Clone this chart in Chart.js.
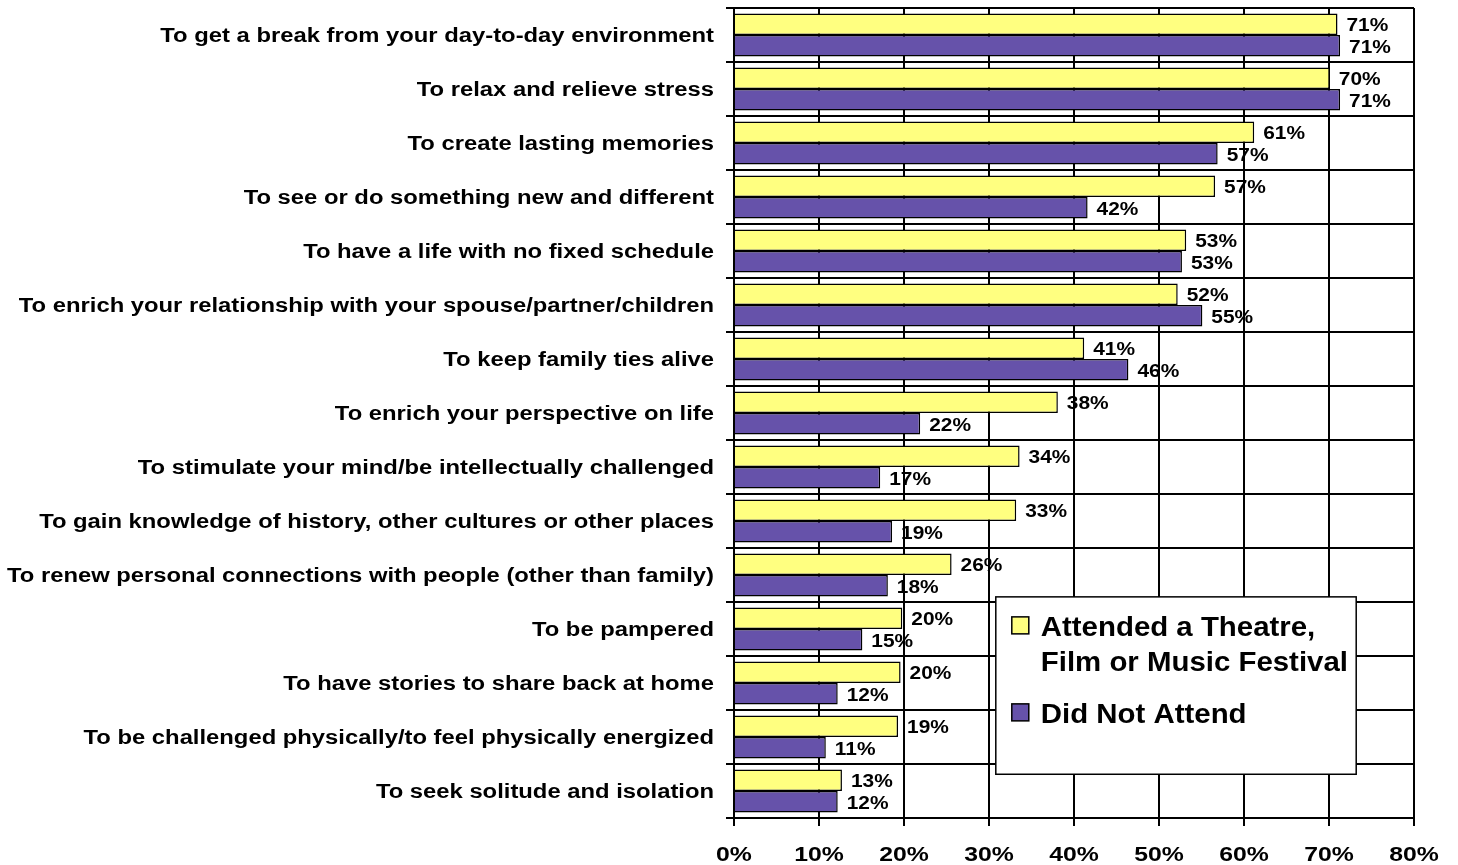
<!DOCTYPE html>
<html>
<head>
<meta charset="utf-8">
<script src="https://cdn.jsdelivr.net/npm/chart.js@4.4.1/dist/chart.umd.min.js"></script>
<style>
  html, body { margin: 0; padding: 0; background: #fff; }
  #wrap { width: 1458px; height: 865px; }
</style>
</head>
<body>
<div id="wrap"><canvas id="chart"></canvas></div>
<script>
const categories = [
    'To get a break from your day-to-day environment',
    'To relax and relieve stress',
    'To create lasting memories',
    'To see or do something new and different',
    'To have a life with no fixed schedule',
    'To enrich your relationship with your spouse/partner/children',
    'To keep family ties alive',
    'To enrich your perspective on life',
    'To stimulate your mind/be intellectually challenged',
    'To gain knowledge of history, other cultures or other places',
    'To renew personal connections with people (other than family)',
    'To be pampered',
    'To have stories to share back at home',
    'To be challenged physically/to feel physically energized',
    'To seek solitude and isolation'
];
const seriesNames = ['Attended a Theatre, Film or Music Festival', 'Did Not Attend'];
const attended = [71.0, 70.1, 61.2, 56.6, 53.2, 52.2, 41.2, 38.1, 33.6, 33.2, 25.6, 19.8, 19.6, 19.3, 12.7];
const notAttended = [71.3, 71.3, 56.9, 41.6, 52.7, 55.1, 46.4, 21.9, 17.2, 18.6, 18.1, 15.1, 12.2, 10.8, 12.2];
const xTicks = [0, 10, 20, 30, 40, 50, 60, 70, 80];

const fontFamily = '"Liberation Sans", Arial, sans-serif';

// the original text is rendered a bit wide, so squeeze it out horizontally
function wideText(ctx, text, x, y, align, sx) {
    ctx.save();
    ctx.translate(x, y);
    ctx.scale(sx, 1);
    ctx.textAlign = align;
    ctx.textBaseline = 'alphabetic';
    ctx.fillText(text, 0, 0);
    ctx.restore();
}

// axis labels, drawn off the chart's own scales
const axisLabels = {
    id: 'axisLabels',
    afterDraw(chart) {
        const ctx = chart.ctx;
        const xs = chart.scales.x;
        const ys = chart.scales.y;
        ctx.save();
        ctx.fillStyle = '#000';

        ctx.font = 'bold 20px ' + fontFamily;
        ys.ticks.forEach((t, i) => {
            const y = ys.getPixelForTick(i);
            wideText(ctx, ys.getLabelForValue(t.value), ys.right - 20, y + 7, 'right', 1.19);
        });

        ctx.font = 'bold 21px ' + fontFamily;
        xs.ticks.forEach(t => {
            const x = xs.getPixelForValue(t.value);
            wideText(ctx, t.value + '%', x, xs.top + 43, 'center', 1.18);
        });
        ctx.restore();
    }
};

// percent labels to the right of each bar
const barLabels = {
    id: 'barLabels',
    afterDatasetsDraw(chart) {
        const ctx = chart.ctx;
        ctx.save();
        ctx.font = 'bold 19px ' + fontFamily;
        ctx.fillStyle = '#000';
        chart.data.datasets.forEach((ds, i) => {
            chart.getDatasetMeta(i).data.forEach((bar, j) => {
                wideText(ctx, Math.round(ds.data[j]) + '%', bar.x + 9, bar.y + 7, 'left', 1.1);
            });
        });
        ctx.restore();
    }
};

// boxed legend sitting inside the plot, lower right
const boxLegend = {
    id: 'boxLegend',
    afterDraw(chart) {
        const ctx = chart.ctx;
        const a = chart.chartArea;
        const w = a.right - a.left;
        const h = a.bottom - a.top;
        const left = a.left + w * 0.385;
        const top = a.top + h * 0.727;
        const right = a.left + w * 0.915;
        const bottom = a.top + h * 0.946;
        const sx = 1.05;

        ctx.save();
        ctx.fillStyle = '#fff';
        ctx.fillRect(left, top, right - left, bottom - top);
        ctx.strokeStyle = '#000';
        ctx.lineWidth = 1.5;
        ctx.strokeRect(left, top, right - left, bottom - top);

        ctx.font = 'bold 28px ' + fontFamily;
        const textX = left + 45;
        const maxW = right - textX;
        let y = top + 29;
        chart.data.datasets.forEach(ds => {
            const words = ds.label.split(' ');
            const lines = [];
            let line = '';
            words.forEach(word => {
                const test = line ? line + ' ' + word : word;
                if (ctx.measureText(test).width * sx > maxW && line) {
                    lines.push(line);
                    line = word;
                } else {
                    line = test;
                }
            });
            lines.push(line);

            ctx.fillStyle = ds.backgroundColor;
            ctx.fillRect(left + 16, y - 9, 17, 17);
            ctx.strokeStyle = '#000';
            ctx.lineWidth = 1.5;
            ctx.strokeRect(left + 16, y - 9, 17, 17);

            ctx.fillStyle = '#000';
            lines.forEach((ln, k) => {
                wideText(ctx, ln, textX, y + 10 + k * 35, 'left', sx);
            });
            y += (lines.length - 1) * 35 + 52;
        });
        ctx.restore();
    }
};

new Chart(document.getElementById('chart'), {
    type: 'bar',
    data: {
        labels: categories,
        datasets: [{
            label: seriesNames[0],
            data: attended,
            backgroundColor: '#FFFF80',
            borderColor: '#000',
            borderWidth: 1.5,
            categoryPercentage: 0.8,
            barPercentage: 1.0
        }, {
            label: seriesNames[1],
            data: notAttended,
            backgroundColor: '#6652AA',
            borderColor: '#000',
            borderWidth: 1.5,
            categoryPercentage: 0.8,
            barPercentage: 1.0
        }]
    },
    options: {
        indexAxis: 'y',
        responsive: true,
        maintainAspectRatio: false,
        animation: false,
        layout: {
            padding: { top: 8, right: 44, left: 0, bottom: 0 }
        },
        plugins: {
            legend: { display: false },
            tooltip: { enabled: false }
        },
        scales: {
            x: {
                min: 0,
                max: 80,
                afterBuildTicks: scale => {
                    scale.ticks = xTicks.map(v => ({ value: v }));
                },
                afterFit: scale => {
                    scale.height = 47;
                    scale.paddingLeft = 0;
                    scale.paddingRight = 0;
                },
                grid: {
                    color: '#000',
                    lineWidth: 2,
                    tickLength: 8,
                    drawTicks: true
                },
                border: { color: '#000', width: 2 },
                ticks: { display: false }
            },
            y: {
                afterFit: scale => {
                    scale.width = 734;
                    scale.paddingTop = 0;
                    scale.paddingBottom = 0;
                },
                grid: {
                    color: '#000',
                    lineWidth: 2,
                    tickLength: 8,
                    drawTicks: true,
                    offset: true
                },
                border: { color: '#000', width: 2 },
                ticks: { display: false, autoSkip: false }
            }
        }
    },
    plugins: [barLabels, axisLabels, boxLegend]
});
</script>
</body>
</html>
